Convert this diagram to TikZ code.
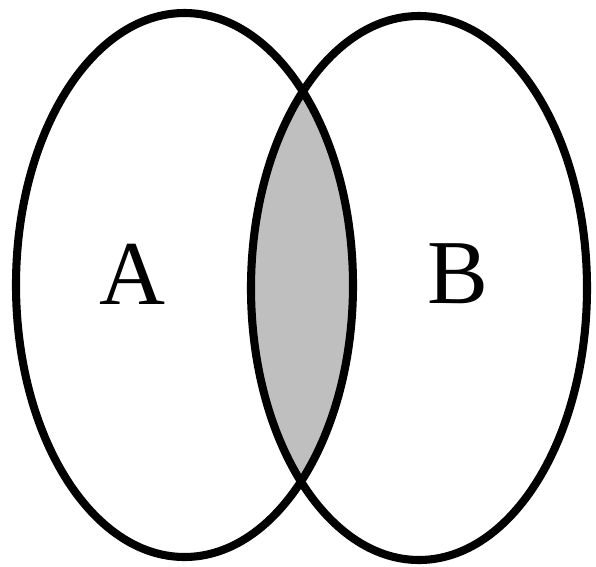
\documentclass[tikz,border=0pt]{standalone}
\usepackage{fontspec}
\setmainfont{Liberation Serif}
\usetikzlibrary{positioning}

\begin{document}
\begin{tikzpicture}[x=0.02cm, y=-0.02cm, line cap=round,
    setline/.style={line width=4.6pt, black},
    setlabel/.style={inner sep=0pt, font=\fontsize{52}{52}\selectfont}]
  \useasboundingbox (0,0) rectangle (596,566);
  \coordinate (cA) at (184.5,285);
  \coordinate (cB) at (419,288);
  % shaded intersection
  \begin{scope}
    \clip (cA) ellipse [x radius=168.5, y radius=272];
    \fill[black!25] (cB) ellipse [x radius=168, y radius=272];
  \end{scope}
  \draw[setline] (cA) ellipse [x radius=168.5, y radius=272];
  \draw[setline] (cB) ellipse [x radius=168, y radius=272];
  \node[setlabel] (labA) at (132,274) {A};
  \node[setlabel] (labB) at (458,274) {B};
\end{tikzpicture}
\end{document}
